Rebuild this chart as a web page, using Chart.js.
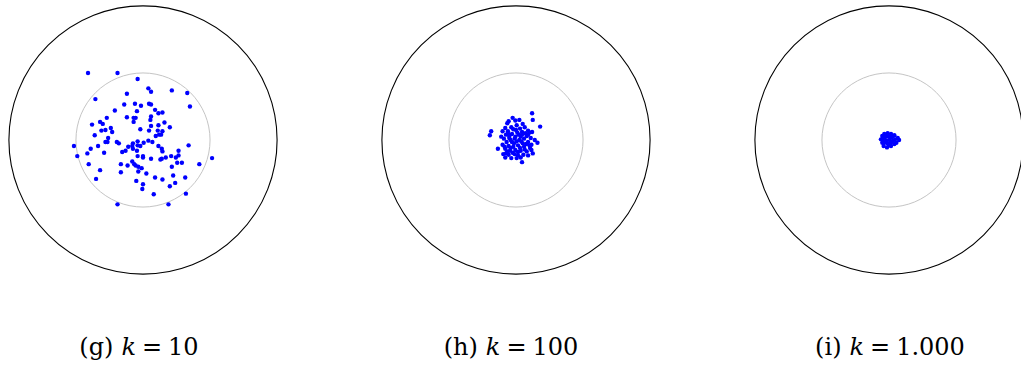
<!DOCTYPE html>
<html>
<head>
<meta charset="utf-8">
<script src="https://cdn.jsdelivr.net/npm/chart.js@4/dist/chart.umd.min.js"></script>
<style>
    html, body { margin: 0; padding: 0; background: #ffffff; }
    body { width: 1021px; height: 367px; position: relative; overflow: hidden; }
    .panel { position: absolute; top: -3px; width: 286px; height: 286px; }
    .cap {
        position: absolute; top: 333px; width: 260px; margin-left: -130px;
        text-align: center; font-family: "DejaVu Serif", serif;
        font-size: 24px; color: #000; white-space: nowrap;
    }
    .cap i { font-style: italic; margin-left: 8px; margin-right: 6px; }
    .cap .eq { margin-right: 6px; }
</style>
</head>
<body>
<div class="panel" style="left:0px"><canvas id="chartG" width="286" height="286"></canvas></div>
<div class="panel" style="left:373px"><canvas id="chartH" width="286" height="286"></canvas></div>
<div class="panel" style="left:746px"><canvas id="chartI" width="286" height="286"></canvas></div>
<div class="cap" style="left:139px">(g)<i>k</i><span class="eq">=</span>10</div>
<div class="cap" style="left:511px">(h)<i>k</i><span class="eq">=</span>100</div>
<div class="cap" style="left:890px">(i)<i>k</i><span class="eq">=</span>1.000</div>

<script>
// Radios de los círculos de referencia (unidades del plano)
const ringRadii = [1, 2];
const ringColors = ['#bdbdbd', '#000000'];
const axisLimit = 2.1;

// Puntos (x, y) para cada valor de k
const pointsK10 = [
    [-0.82, 1.00], [-0.38, 1.00], [-0.08, 0.91], [0.08, 0.77], [0.12, 0.72], [0.43, 0.74],
    [0.66, 0.70], [-0.71, 0.61], [-0.24, 0.69], [0.70, 0.50], [-0.28, 0.53], [-0.12, 0.54],
    [-0.03, 0.51], [0.09, 0.54], [0.12, 0.53], [-0.09, 0.43], [-0.42, 0.44], [0.18, 0.45],
    [0.23, 0.40], [0.29, 0.41], [-0.54, 0.33], [-0.24, 0.34], [-0.14, 0.33], [-0.11, 0.33],
    [0.12, 0.35], [-0.14, 0.27], [0.11, 0.30], [-0.64, 0.27], [-0.60, 0.24], [-0.76, 0.23],
    [0.12, 0.21], [0.23, 0.22], [0.32, 0.26], [0.40, 0.19], [-0.48, 0.18], [-0.62, 0.14],
    [-0.56, 0.15], [-0.46, 0.12], [-0.04, 0.16], [0.09, 0.14], [0.22, 0.14], [0.29, 0.13],
    [-0.72, 0.07], [-0.52, 0.03], [0.19, 0.06], [0.24, 0.08], [0.27, 0.08], [-0.56, -0.03],
    [-0.53, -0.03], [-0.39, -0.03], [-0.36, -0.05], [-0.08, -0.02], [-0.15, -0.05], [0.01, -0.04],
    [0.08, -0.01], [0.14, -0.03], [-1.03, -0.09], [-0.67, -0.09], [-0.78, -0.13], [-0.22, -0.10],
    [-0.16, -0.09], [-0.08, -0.08], [-0.04, -0.09], [0.23, -0.09], [0.28, -0.13], [0.29, -0.17],
    [0.68, -0.08], [-0.26, -0.16], [-0.31, -0.18], [-0.15, -0.13], [-0.09, -0.16], [-0.83, -0.20],
    [-0.58, -0.19], [-0.98, -0.24], [-0.08, -0.24], [0.00, -0.24], [0.00, -0.26], [0.12, -0.28],
    [0.26, -0.29], [0.28, -0.28], [0.34, -0.26], [0.42, -0.24], [0.49, -0.26], [0.53, -0.23],
    [0.53, -0.16], [1.03, -0.27], [0.51, -0.34], [0.58, -0.34], [0.43, -0.40], [0.84, -0.36],
    [-0.81, -0.36], [-0.33, -0.36], [-0.23, -0.38], [-0.16, -0.32], [-0.13, -0.36], [-0.11, -0.38],
    [-0.07, -0.40], [-0.02, -0.42], [-0.07, -0.47], [-0.64, -0.45], [-0.33, -0.48], [0.05, -0.50],
    [0.45, -0.53], [0.18, -0.56], [0.29, -0.59], [0.63, -0.56], [-0.70, -0.58], [-0.10, -0.61],
    [0.00, -0.66], [-0.01, -0.73], [0.48, -0.64], [0.40, -0.69], [0.16, -0.81], [0.64, -0.80],
    [-0.38, -0.96], [0.38, -0.96]
];

const pointsK100 = [
    [-0.05, 0.33], [-0.11, 0.28], [-0.13, 0.25], [-0.01, 0.29], [0.05, 0.30], [0.10, 0.24],
    [0.01, 0.22], [-0.07, 0.19], [-0.16, 0.18], [-0.20, 0.13], [-0.12, 0.13], [-0.04, 0.16],
    [0.06, 0.17], [0.13, 0.19], [0.18, 0.14], [0.09, 0.12], [0.02, 0.11], [-0.06, 0.09],
    [-0.15, 0.08], [-0.22, 0.05], [-0.18, 0.02], [-0.10, 0.03], [-0.01, 0.05], [0.07, 0.05],
    [0.16, 0.06], [0.22, 0.03], [0.28, 0.00], [0.32, -0.04], [-0.14, -0.03], [-0.06, -0.03],
    [0.01, -0.02], [0.08, -0.02], [0.18, -0.03], [0.23, -0.07], [-0.20, -0.07], [-0.11, -0.09],
    [-0.04, -0.10], [0.03, -0.08], [0.12, -0.10], [0.21, -0.12], [-0.16, -0.13], [-0.09, -0.16],
    [-0.01, -0.15], [0.07, -0.16], [0.16, -0.17], [0.23, -0.15], [-0.19, -0.21], [-0.11, -0.22],
    [-0.02, -0.21], [0.03, -0.23], [0.11, -0.22], [0.18, -0.23], [0.25, -0.20], [-0.16, -0.26],
    [-0.07, -0.27], [0.01, -0.27], [0.07, -0.26], [0.24, 0.40], [0.25, 0.30], [0.36, 0.20],
    [0.24, 0.12], [-0.37, 0.13], [-0.39, 0.07], [-0.27, -0.13], [0.09, -0.33], [-0.08, 0.00],
    [0.05, 0.00], [0.12, 0.02], [-0.03, -0.05], [0.10, -0.05], [0.14, 0.10], [-0.10, 0.06],
    [0.00, 0.15], [0.06, -0.12], [-0.13, -0.17], [0.20, -0.08], [0.18, 0.08], [-0.17, -0.10],
    [0.04, 0.08], [-0.05, -0.19], [0.13, -0.14], [-0.02, 0.02], [0.09, 0.08], [-0.08, -0.12],
    [0.15, -0.06], [-0.12, 0.10], [0.03, -0.18], [-0.15, -0.20], [0.20, 0.11]
];

const pointsK1000 = [
    [-0.12, 0.01], [-0.10, 0.06], [-0.07, 0.09], [-0.02, 0.10], [0.03, 0.09], [0.08, 0.07],
    [0.13, 0.03], [0.15, 0.00], [0.11, -0.04], [0.08, -0.06], [0.03, -0.09], [-0.03, -0.11],
    [-0.08, -0.09], [-0.10, -0.04], [-0.06, 0.04], [-0.01, 0.05], [0.04, 0.04], [-0.04, -0.01],
    [0.01, 0.00], [0.06, -0.01], [-0.02, -0.05], [0.03, -0.04], [-0.07, -0.04], [0.09, 0.01],
    [0.00, -0.08], [-0.05, 0.07], [0.06, 0.06], [-0.09, 0.00]
];

const captions = ['(g) k = 10', '(h) k = 100', '(i) k = 1.000'];

// Dibuja los dos círculos usando las escalas del gráfico
const ringsPlugin = {
    id: 'rings',
    beforeDatasetsDraw(chart) {
        const { ctx, scales: { x, y } } = chart;
        const cx = x.getPixelForValue(0);
        const cy = y.getPixelForValue(0);
        ctx.save();
        ringRadii.forEach((r, i) => {
            const rad = x.getPixelForValue(r) - cx;
            ctx.beginPath();
            ctx.arc(cx, cy, rad, 0, Math.PI * 2);
            ctx.strokeStyle = ringColors[i];
            ctx.lineWidth = i === 0 ? 0.9 : 1.1;
            ctx.stroke();
        });
        ctx.restore();
    }
};

function makePanel(id, points, title) {
    const ctx = document.getElementById(id);
    new Chart(ctx, {
        type: 'scatter',
        data: {
            datasets: [{
                label: title,
                data: points.map(p => ({ x: p[0], y: p[1] })),
                backgroundColor: '#0000ff',
                borderWidth: 0,
                pointRadius: 2.2,
                pointHoverRadius: 2.2
            }]
        },
        options: {
            responsive: false,
            animation: false,
            events: [],
            layout: { padding: 0 },
            plugins: {
                legend: { display: false },
                tooltip: { enabled: false }
            },
            scales: {
                x: { type: 'linear', min: -axisLimit, max: axisLimit, display: false },
                y: { type: 'linear', min: -axisLimit, max: axisLimit, display: false }
            }
        },
        plugins: [ringsPlugin]
    });
}

makePanel('chartG', pointsK10, captions[0]);
makePanel('chartH', pointsK100, captions[1]);
makePanel('chartI', pointsK1000, captions[2]);
</script>
</body>
</html>
